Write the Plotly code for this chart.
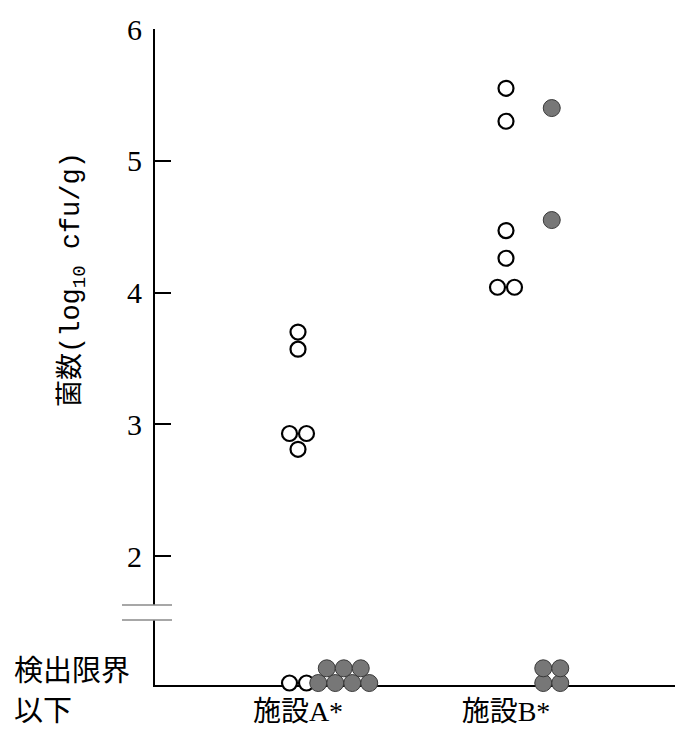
import math
import plotly.graph_objects as go

# ---------------- data (log10 cfu/g; None = below detection limit) ----------------
CATEGORIES = ["施設A*", "施設B*"]
OPEN_A = [3.70, 3.57, 2.93, 2.93, 2.81, None, None]
FILLED_A = [None, None, None, None, None, None, None]
OPEN_B = [5.55, 5.30, 4.47, 4.26, 4.04, 4.04]
FILLED_B = [5.40, 4.55, None, None, None, None]
Y_TICKS = [2, 3, 4, 5, 6]
ND_LABEL_LINES = ["検出限界", "以下"]
Y_TITLE = "菌数(log<sub>10</sub> cfu/g)"

# ---------------- layout constants ----------------
W, H = 676, 736
M_L, M_R, M_T, M_B = 155, 1, 29, 51
X_RANGE = [0.3125, 2.8125]
Y_RANGE = [1.021, 6.0]
ND_LEVEL = 1.036
PLOT_W = W - M_L - M_R
PLOT_H = H - M_T - M_B
PX_X = PLOT_W / (X_RANGE[1] - X_RANGE[0])
PX_Y = PLOT_H / (Y_RANGE[1] - Y_RANGE[0])
DIAM = 17.0          # spacing between touching markers, px
FILLED_SHIFT = 0.22  # filled series drawn to the right of the category


def swarm(values, xc):
    """Place points: equal values spread symmetrically, ND points packed in rows."""
    xs, ys = [], []
    measured = [v for v in values if v is not None]
    nd = len(values) - len(measured)
    groups = {}
    for v in measured:
        groups[v] = groups.get(v, 0) + 1
    for v, n in groups.items():
        for i in range(n):
            xs.append(xc + (i - (n - 1) / 2) * DIAM / PX_X)
            ys.append(v)
    if nd:
        if nd <= 2:
            rows = [nd]
        else:
            bottom = math.ceil(nd / 2)
            rows = [bottom, nd - bottom]
        for r, n in enumerate(rows):
            y = ND_LEVEL + r * DIAM * math.sqrt(3) / 2 / PX_Y
            for i in range(n):
                xs.append(xc + (i - (n - 1) / 2) * DIAM / PX_X)
                ys.append(y)
    return xs, ys


fig = go.Figure()

open_style = dict(symbol="circle", size=15, color="white",
                  line=dict(color="black", width=2.2))
filled_style = dict(symbol="circle", size=17, color="#777777",
                    line=dict(color="#3a3a3a", width=1))

for idx, (vals_o, vals_f) in enumerate([(OPEN_A, FILLED_A), (OPEN_B, FILLED_B)]):
    xc = idx + 1
    xo, yo = swarm(vals_o, xc)
    xf, yf = swarm(vals_f, xc + FILLED_SHIFT)
    fig.add_trace(go.Scatter(x=xo, y=yo, mode="markers", marker=open_style,
                             cliponaxis=False, showlegend=False, hoverinfo="skip"))
    fig.add_trace(go.Scatter(x=xf, y=yf, mode="markers", marker=filled_style,
                             cliponaxis=False, showlegend=False, hoverinfo="skip"))

serif = "Liberation Serif, Noto Sans CJK JP"

fig.update_layout(
    width=W, height=H,
    margin=dict(l=M_L, r=M_R, t=M_T, b=M_B),
    paper_bgcolor="white", plot_bgcolor="white",
    showlegend=False,
    xaxis=dict(range=X_RANGE, tickvals=[1, 2], ticktext=CATEGORIES, ticks="",
               showline=True, linecolor="black", linewidth=2, showgrid=False,
               zeroline=False, layer="below traces",
               tickfont=dict(family=serif, size=28, color="black")),
    yaxis=dict(range=Y_RANGE, tickvals=Y_TICKS, ticks="inside", ticklen=16,
               tickwidth=1.5, tickcolor="black", showline=True, linecolor="black",
               linewidth=2, showgrid=False, zeroline=False, layer="below traces",
               ticklabelstandoff=5,
               tickfont=dict(family=serif, size=30, color="black")),
)

# axis break on the y axis
brk_lo, brk_hi = 1.514, 1.628
fig.add_shape(type="rect", xref="paper", yref="y", x0=-0.012, x1=0.012,
              y0=brk_lo, y1=brk_hi, fillcolor="white", line=dict(width=0))
for yb in (brk_lo, brk_hi):
    fig.add_shape(type="line", xref="paper", yref="y", x0=-0.0635, x1=0.0327,
                  y0=yb, y1=yb, line=dict(color="#8a8a8a", width=1.5))

# below-detection label (two lines, left aligned)
for line_text, ypx in zip(ND_LABEL_LINES, (668, 708)):
    fig.add_annotation(text=line_text, xref="paper", yref="paper",
                       x=(12 - M_L) / PLOT_W, y=(685 - ypx) / PLOT_H,
                       xanchor="left", yanchor="middle", align="left", showarrow=False,
                       font=dict(family="Noto Sans CJK JP", size=29, color="black"))

# y-axis title
fig.add_annotation(text=Y_TITLE, xref="paper", yref="paper",
                   x=(73 - M_L) / PLOT_W, y=(685 - 280) / PLOT_H,
                   xanchor="center", yanchor="middle", textangle=-90, showarrow=False,
                   font=dict(family="Liberation Mono, Noto Sans CJK JP", size=27,
                             color="black"))

fig.write_html("out.html", config={"displayModeBar": False},
               post_script="document.body.style.margin='0';"
                           "document.body.style.overflow='hidden';")
